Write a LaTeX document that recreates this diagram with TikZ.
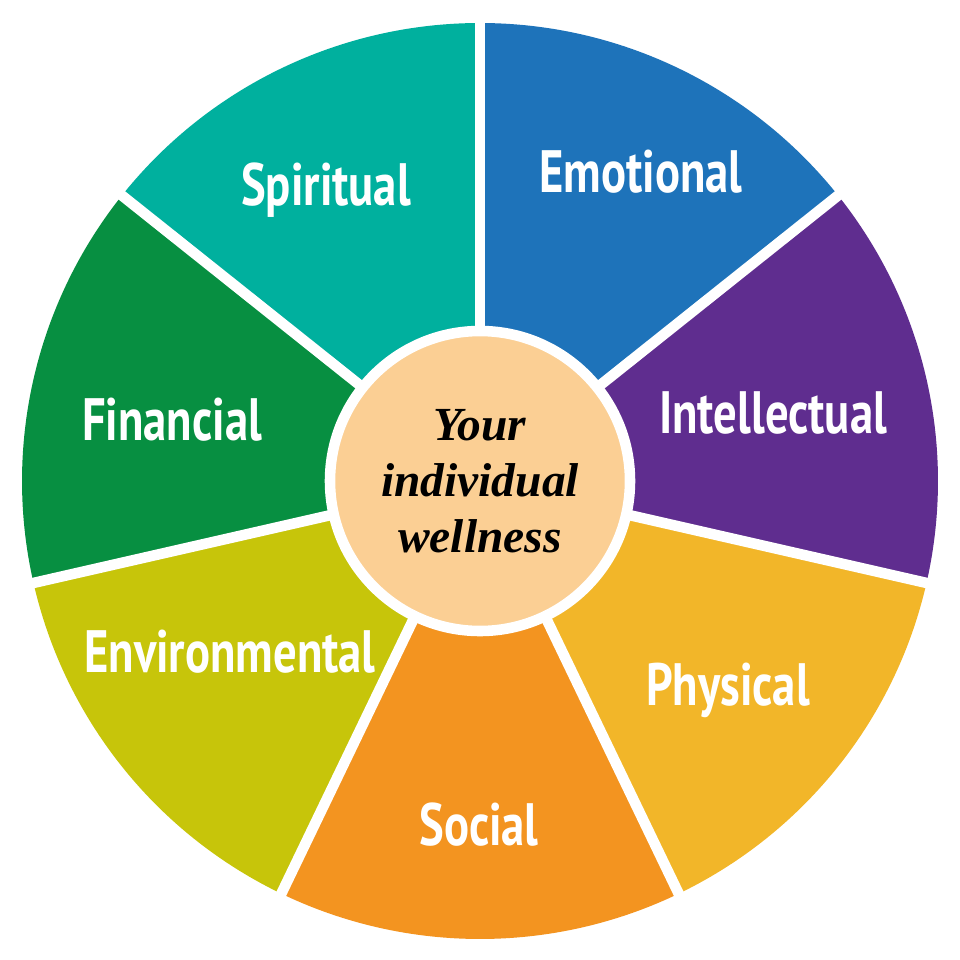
\documentclass[tikz,border=0pt]{standalone}
\usepackage{fontspec}
\newfontfamily\lab[FakeStretch=0.78]{PT Sans}
\newfontfamily\ctr{Liberation Serif}
\definecolor{cEmo}{HTML}{1E73BA}
\definecolor{cInt}{HTML}{5F2D8F}
\definecolor{cPhy}{HTML}{F2B629}
\definecolor{cSoc}{HTML}{F39420}
\definecolor{cEnv}{HTML}{C7C50A}
\definecolor{cFin}{HTML}{078F41}
\definecolor{cSpi}{HTML}{00B09E}
\definecolor{cCtr}{HTML}{FBCF94}
\tikzset{lbl/.style={text=white,font=\lab\bfseries\fontsize{17}{20}\selectfont}}
\begin{document}
\begin{tikzpicture}[x=0.01cm,y=-0.01cm]
\useasboundingbox (0,0) rectangle (960,960);
\coordinate (O) at (480,481);
\def\R{458}
\foreach \a/\b/\c in {90/38.57/cEmo,38.57/-12.86/cInt,-12.86/-64.29/cPhy,-64.29/-115.71/cSoc,-115.71/-167.14/cEnv,-167.14/-218.57/cFin,-218.57/-270/cSpi}{
  \fill[\c] (O) -- ++(\a:{\R} and {-\R}) arc[start angle=\a,end angle=\b,x radius=\R,y radius=-\R] -- cycle;
}
\foreach \a in {90,38.57,-12.86,-64.29,-115.71,-167.14,141.43}{
  \draw[white,line width=3pt] (O) -- ++(\a:{\R+5} and {-\R-5});
}
\node[circle,fill=cCtr,draw=white,line width=3pt,minimum size=300*0.01cm,inner sep=0pt,align=center,
  font=\ctr\bfseries\itshape\fontsize{13.5}{16}\selectfont] (center) at (O) {Your\\individual\\wellness};
\node[lbl] (spi) at (326,190) {Spiritual};
\node[lbl] (emo) at (641,172) {Emotional};
\node[lbl] (int) at (773,413) {Intellectual};
\node[lbl] (fin) at (172,420) {Financial};
\node[lbl] (env) at (230,652) {Environmental};
\node[lbl] (soc) at (479,825) {Social};
\node[lbl] (phy) at (728,690) {Physical};
\end{tikzpicture}
\end{document}
